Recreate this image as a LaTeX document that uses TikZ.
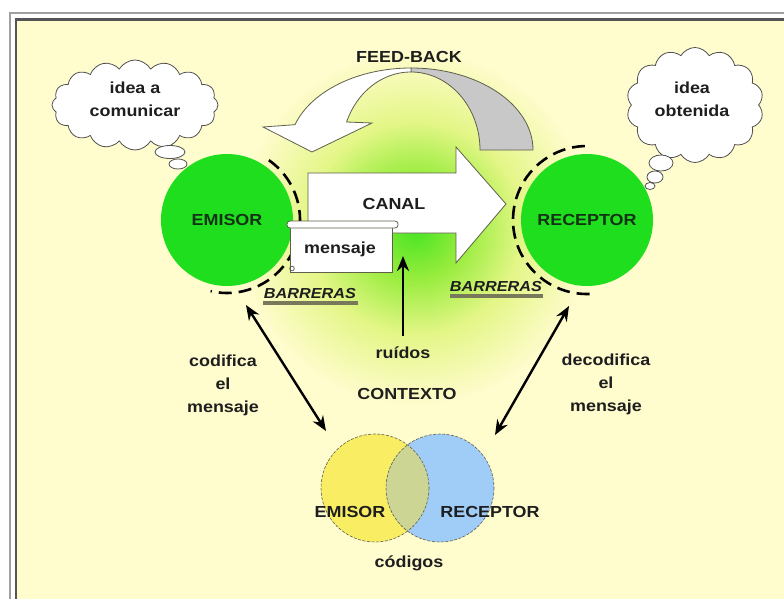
\documentclass[tikz,border=0pt]{standalone}
\usepackage{fontspec}
\setmainfont{Liberation Sans}[FakeStretch=1.12]
\usetikzlibrary{arrows.meta,shapes.symbols}
\definecolor{bg}{RGB}{255,252,206}
\definecolor{framelight}{RGB}{160,160,160}
\definecolor{framedark}{RGB}{85,85,85}
\definecolor{grn}{RGB}{30,222,30}
\definecolor{dkgreen}{RGB}{20,50,20}
\definecolor{txt}{RGB}{30,30,30}
\definecolor{glowA}{RGB}{70,228,35}
\definecolor{glowB}{RGB}{150,236,60}
\definecolor{glowC}{RGB}{228,246,135}
\definecolor{fbgray}{RGB}{200,200,200}
\definecolor{arrline}{RGB}{95,95,75}
\definecolor{cloudline}{RGB}{80,80,80}
\definecolor{vyellow}{RGB}{249,238,99}
\definecolor{vblue}{RGB}{160,204,248}
\definecolor{vboth}{RGB}{204,213,148}
\definecolor{ulcol}{RGB}{120,120,90}
\pgfdeclareradialshading{glow}{\pgfpoint{0bp}{0bp}}{color(0bp)=(glowA); color(7bp)=(glowB); color(15bp)=(glowC); color(25bp)=(bg); color(50bp)=(bg)}
\tikzset{
  lbl/.style={font=\fontsize{16}{23}\selectfont\bfseries, text=txt, align=center, inner sep=0pt},
  barlbl/.style={font=\fontsize{14.5}{16}\selectfont\bfseries\itshape, text=txt, inner sep=0pt},
  bigcirc/.style={circle, fill=grn, minimum size=132pt, inner sep=0pt, font=\fontsize{16}{20}\selectfont\bfseries, text=dkgreen},
  barrier/.style={dash pattern=on 13pt off 7pt, line width=2.6pt, black},
  dbl/.style={{Stealth[length=15pt,width=12pt]}-{Stealth[length=15pt,width=12pt]}, line width=2.4pt, black},
  cloudy/.style={cloud, cloud puffs=15, cloud puff arc=120, draw=cloudline, fill=white, line width=0.8pt, inner sep=0pt},
  bub/.style={fill=white, draw=cloudline, line width=0.8pt},
  shape line/.style={draw=arrline, line width=0.8pt},
  venn/.style={draw=arrline, line width=0.6pt, dash pattern=on 3pt off 1.5pt},
}
\begin{document}
\begin{tikzpicture}[x=1pt,y=-1pt]
\useasboundingbox (0,0) rectangle (784,598);
\fill[white] (0,0) rectangle (784,598);
% frame
\draw[framelight, line width=2pt] (10,13) rectangle (800,620);
\draw[framedark, line width=2.2pt] (16,19.5) rectangle (800,620);
\fill[bg] (17.2,20.7) rectangle (800,620);
% glow
\shade[shading=glow] (415,228) circle (178);
% feedback arrow
\fill[fbgray, shape line] (533,150) arc[start angle=0,end angle=-90,x radius=122,y radius=82] -- (411,72) arc[start angle=-90,end angle=0,x radius=69,y radius=78] -- cycle;
\fill[white, shape line] (411,68) arc[start angle=-90,end angle=-162,x radius=122,y radius=82] -- (263,127) -- (312,152) -- (372,123) -- (346.6,122) arc[start angle=-159,end angle=-90,x radius=69,y radius=78] -- cycle;
\node[lbl] (fb) at (409,57) {FEED-BACK};
% canal arrow
\fill[white, shape line] (308,173) -- (456,173) -- (456,147) -- (506,204) -- (456,263) -- (456,233) -- (308,233) -- cycle;
\node[lbl] (canal) at (394,204) {CANAL};
% circles
\node[bigcirc] (emisor) at (227,220) {EMISOR};
\node[bigcirc] (receptor) at (587,220) {RECEPTOR};
\draw[barrier] (emisor.center) ++(-55:73) arc[start angle=-55,end angle=103,radius=73];
\draw[barrier] (receptor.center) ++(88:74) arc[start angle=88,end angle=272,radius=74];
% mensaje scroll
\fill[white, shape line] (290,227) rectangle (392,272);
\fill[white, shape line, rounded corners=3pt] (287,221) rectangle (398,228);
\draw[arrline, line width=0.8pt] (292,268.5) circle (2.3);
\node[lbl] (msg) at (340,249) {mensaje};
% clouds
\node[cloudy, minimum width=166pt, minimum height=90pt, cloud puffs=16] (c1) at (135,105) {};
\node[lbl] (c1t) at (135,99) {idea a\\comunicar};
\filldraw[bub] (170,152) ellipse (15 and 6.5);
\filldraw[bub] (178,164) ellipse (9 and 5);
\node[cloudy, minimum width=137pt, minimum height=115pt, cloud puffs=14] (c2) at (695,105) {};
\node[lbl] (c2t) at (692,99) {idea\\obtenida};
\filldraw[bub] (661,163) ellipse (12 and 8);
\filldraw[bub] (655,177) ellipse (8 and 6);
\filldraw[bub] (650,186) ellipse (5 and 3.5);
% barreras
\fill[ulcol] (263,301) rectangle (358,305);
\node[barlbl] (b1) at (310,294) {BARRERAS};
\fill[ulcol] (450,294) rectangle (543,298);
\node[barlbl] (b2) at (496,287) {BARRERAS};
% ruidos
\node[lbl] (ruidos) at (403,353) {ruídos};
\coordinate (rtop) at (403,256);
\draw[line width=2.8pt, -{Stealth[length=15pt,width=12pt]}] (403,336) -- (rtop);
\node[lbl] (ctx) at (407,394) {CONTEXTO};
% double arrows
\coordinate (l1) at (246,305);
\coordinate (l2) at (326,431);
\draw[dbl] (l1) -- (l2);
\coordinate (r1) at (569,306);
\coordinate (r2) at (495,435);
\draw[dbl] (r1) -- (r2);
\node[lbl] (cod) at (223,385) {codifica\\el\\mensaje};
\node[lbl] (dec) at (606,384) {decodifica\\el\\mensaje};
% venn
\fill[vyellow] (375,488) circle (54);
\fill[vblue] (440,488) circle (54);
\begin{scope}
\clip (375,488) circle (54);
\fill[vboth] (440,488) circle (54);
\end{scope}
\draw[venn] (375,488) circle (54);
\draw[venn] (440,488) circle (54);
\node[lbl] (ve) at (350,512) {EMISOR};
\node[lbl] (vr) at (490,512) {RECEPTOR};
\node[lbl] (cods) at (409,563) {códigos};
\end{tikzpicture}
\end{document}
